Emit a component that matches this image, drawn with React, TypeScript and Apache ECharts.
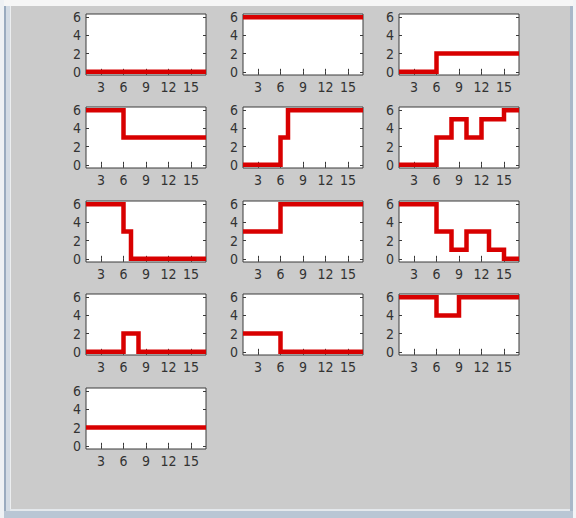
import React, { useEffect, useRef } from "react";
import * as echarts from "echarts";

// x positions of the samples (stairs)
const xValues = [1, 2, 3, 4, 5, 6, 7, 8, 9, 10, 11, 12, 13, 14, 15, 16, 17];
const xTickValues = [3, 6, 9, 12, 15];
const yTickValues = [0, 2, 4, 6];

// one array per subplot, row-major order, value at each x
const panel1 = [0, 0, 0, 0, 0, 0, 0, 0, 0, 0, 0, 0, 0, 0, 0, 0, 0];
const panel2 = [6, 6, 6, 6, 6, 6, 6, 6, 6, 6, 6, 6, 6, 6, 6, 6, 6];
const panel3 = [0, 0, 0, 0, 0, 2, 2, 2, 2, 2, 2, 2, 2, 2, 2, 2, 2];
const panel4 = [6, 6, 6, 6, 6, 3, 3, 3, 3, 3, 3, 3, 3, 3, 3, 3, 3];
const panel5 = [0, 0, 0, 0, 0, 3, 6, 6, 6, 6, 6, 6, 6, 6, 6, 6, 6];
const panel6 = [0, 0, 0, 0, 0, 3, 3, 5, 5, 3, 3, 5, 5, 5, 6, 6, 6];
const panel7 = [6, 6, 6, 6, 6, 3, 0, 0, 0, 0, 0, 0, 0, 0, 0, 0, 0];
const panel8 = [3, 3, 3, 3, 3, 6, 6, 6, 6, 6, 6, 6, 6, 6, 6, 6, 6];
const panel9 = [6, 6, 6, 6, 6, 3, 3, 1, 1, 3, 3, 3, 1, 1, 0, 0, 0];
const panel10 = [0, 0, 0, 0, 0, 2, 2, 0, 0, 0, 0, 0, 0, 0, 0, 0, 0];
const panel11 = [2, 2, 2, 2, 2, 0, 0, 0, 0, 0, 0, 0, 0, 0, 0, 0, 0];
const panel12 = [6, 6, 6, 6, 6, 4, 4, 4, 6, 6, 6, 6, 6, 6, 6, 6, 6];
const panel13 = [2, 2, 2, 2, 2, 2, 2, 2, 2, 2, 2, 2, 2, 2, 2, 2, 2];

const panels = [
  panel1, panel2, panel3,
  panel4, panel5, panel6,
  panel7, panel8, panel9,
  panel10, panel11, panel12,
  panel13,
];

// layout
const colLeft = [86, 243, 399];
const rowTop = [14, 107, 201, 294, 388];
const plotW = 120;
const plotH = 61;
const X_MIN = 1;
const X_MAX = 17;
const Y_MIN = -0.35;
const Y_MAX = 6.35;

const FONT = "'Liberation Sans Narrow', 'DejaVu Sans Condensed', 'Arial Narrow', sans-serif";
const AXIS_COLOR = "#3a3a3a";
const LINE_COLOR = "#d80000";

function buildOption() {
  const grid: any[] = [];
  const xAxis: any[] = [];
  const yAxis: any[] = [];
  const series: any[] = [];

  panels.forEach((vals, i) => {
    const col = i % 3;
    const row = Math.floor(i / 3);
    grid.push({
      left: colLeft[col],
      top: rowTop[row],
      width: plotW,
      height: plotH,
      show: true,
      backgroundColor: "#ffffff",
      borderColor: AXIS_COLOR,
      borderWidth: 1,
      containLabel: false,
      outerBoundsMode: "none",
    });
    const tick = (values: number[]) => ({
      show: true,
      inside: true,
      length: 3,
      customValues: values,
      lineStyle: { color: AXIS_COLOR, width: 1 },
    });
    const label = {
      show: true,
      customValues: [] as number[],
      fontFamily: FONT,
      fontSize: 14,
      color: "#333333",
    };
    xAxis.push({
      gridIndex: i,
      type: "value",
      position: "bottom",
      min: X_MIN,
      max: X_MAX,
      axisLine: { show: false },
      splitLine: { show: false },
      axisTick: tick(xTickValues),
      axisLabel: { ...label, customValues: xTickValues, margin: 5 },
    });
    xAxis.push({
      gridIndex: i,
      type: "value",
      position: "top",
      min: X_MIN,
      max: X_MAX,
      axisLine: { show: false },
      splitLine: { show: false },
      axisTick: tick(xTickValues),
      axisLabel: { show: false },
    });
    yAxis.push({
      gridIndex: i,
      type: "value",
      position: "left",
      min: Y_MIN,
      max: Y_MAX,
      axisLine: { show: false },
      splitLine: { show: false },
      axisTick: tick(yTickValues),
      axisLabel: { ...label, customValues: yTickValues, margin: 5 },
    });
    yAxis.push({
      gridIndex: i,
      type: "value",
      position: "right",
      min: Y_MIN,
      max: Y_MAX,
      axisLine: { show: false },
      splitLine: { show: false },
      axisTick: tick(yTickValues),
      axisLabel: { show: false },
    });
    series.push({
      type: "line",
      xAxisIndex: 2 * i,
      yAxisIndex: 2 * i,
      data: xValues.map((x, j) => [x, vals[j]]),
      step: "end",
      symbol: "none",
      showSymbol: false,
      silent: true,
      clip: true,
      lineStyle: { color: LINE_COLOR, width: 4.5, cap: "butt", join: "miter" },
      z: 3,
    });
  });

  const graphic: any[] = [
    { type: "rect", shape: { x: 0, y: 0, width: 576, height: 6 }, style: { fill: "#f6f6f6" }, silent: true },
    { type: "rect", shape: { x: 0, y: 0, width: 4, height: 518 }, style: { fill: "#eef1f4" }, silent: true },
    { type: "rect", shape: { x: 4, y: 6, width: 2, height: 512 }, style: { fill: "#9aabbf" }, silent: true },
    { type: "rect", shape: { x: 6, y: 6, width: 4, height: 506 }, style: { fill: "#d3dbe4" }, silent: true },
    { type: "rect", shape: { x: 10, y: 6, width: 1, height: 504 }, style: { fill: "#eceef0" }, silent: true },
    { type: "rect", shape: { x: 570, y: 6, width: 3, height: 512 }, style: { fill: "#a9b8c9" }, silent: true },
    { type: "rect", shape: { x: 573, y: 0, width: 3, height: 518 }, style: { fill: "#f2f4f6" }, silent: true },
    { type: "rect", shape: { x: 10, y: 509, width: 560, height: 2 }, style: { fill: "#e4e8ec" }, silent: true },
    { type: "rect", shape: { x: 4, y: 511, width: 569, height: 7 }, style: { fill: "#b9c6d4" }, silent: true },
  ];

  return {
    animation: false,
    backgroundColor: "#cbcbcb",
    grid,
    xAxis,
    yAxis,
    series,
    graphic,
  };
}

export default function App() {
  const ref = useRef<HTMLDivElement>(null);
  useEffect(() => {
    if (!ref.current) return;
    const chart = echarts.init(ref.current, undefined, { renderer: "svg" });
    chart.setOption(buildOption() as any);
    return () => chart.dispose();
  }, []);
  return (
    <div
      ref={ref}
      style={{ position: "absolute", left: 0, top: 0, width: 576, height: 518 }}
    />
  );
}
